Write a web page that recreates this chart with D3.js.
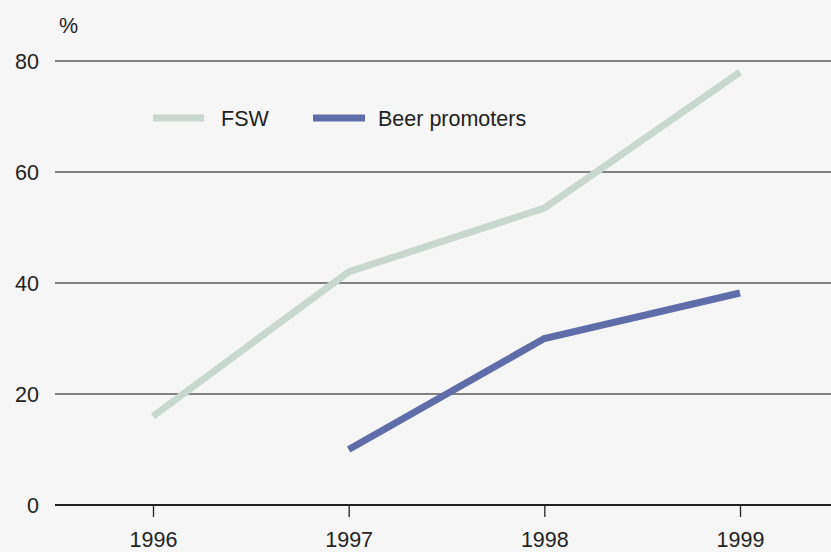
<!DOCTYPE html>
<html>
<head>
<meta charset="utf-8">
<script src="https://cdn.jsdelivr.net/npm/d3@7"></script>
<style>
  body { margin: 0; background: #f6f6f6; }
  svg { display: block; }
</style>
</head>
<body>
<div></div>
<script>
// data
var years = [1996, 1997, 1998, 1999];
var fsw = [16, 42, 53.5, 78];
var beer = [null, 10, 30, 38.2];
var yTicks = [0, 20, 40, 60, 80];

var fswColor = "#c8d8cf",
    beerColor = "#5f6ea8";

var width = 831, height = 552;
var fs = "21.5px";

var x = d3.scalePoint().domain(years).range([153, 740]);
var y = d3.scaleLinear().domain([0, 80]).range([505, 61]);

var svg = d3.select("body").select("div").append("svg")
    .attr("width", width)
    .attr("height", height)
    .style("font-family", "'Liberation Sans', Arial, sans-serif");

svg.append("rect")
    .attr("width", width)
    .attr("height", height)
    .style("fill", "#f6f6f6");

// gridlines
svg.selectAll(".grid")
    .data(yTicks.filter(function(d) { return d > 0; }))
    .enter().append("line")
    .attr("x1", 55)
    .attr("x2", width)
    .attr("y1", function(d) { return y(d); })
    .attr("y2", function(d) { return y(d); })
    .style("stroke", "#5a5a5a")
    .style("stroke-width", 1.3);

// y labels
svg.selectAll(".ylab")
    .data(yTicks)
    .enter().append("text")
    .attr("x", 39)
    .attr("y", function(d) { return y(d) + 8; })
    .attr("text-anchor", "end")
    .style("font-size", fs)
    .style("fill", "#222")
    .text(function(d) { return d; });

svg.append("text")
    .attr("x", 59)
    .attr("y", 33)
    .style("font-size", fs)
    .style("fill", "#222")
    .text("%");

// x axis
var xAxis = svg.append("g")
    .attr("transform", "translate(0," + y(0) + ")")
    .call(d3.axisBottom(x).tickSize(12).tickPadding(15));
xAxis.select(".domain").remove();
xAxis.append("line")
    .attr("x1", 55).attr("x2", width)
    .style("stroke", "#222").style("stroke-width", 2);
xAxis.selectAll(".tick line").style("stroke", "#222").style("stroke-width", 1.3);
xAxis.selectAll(".tick text")
    .style("font-size", fs)
    .style("font-family", "'Liberation Sans', Arial, sans-serif")
    .style("fill", "#222");

var line = d3.line()
    .defined(function(d) { return d[1] != null; })
    .x(function(d) { return x(d[0]); })
    .y(function(d) { return y(d[1]); });

svg.append("path")
    .datum(years.map(function(d, i) { return [d, fsw[i]]; }))
    .attr("d", line)
    .style("fill", "none")
    .style("stroke", fswColor)
    .style("stroke-width", 7);

svg.append("path")
    .datum(years.map(function(d, i) { return [d, beer[i]]; }))
    .attr("d", line)
    .style("fill", "none")
    .style("stroke", beerColor)
    .style("stroke-width", 7);

// legend
var legend = svg.append("g");
legend.append("line")
    .attr("x1", 153).attr("x2", 204).attr("y1", 118).attr("y2", 118)
    .style("stroke", fswColor).style("stroke-width", 7);
legend.append("text")
    .attr("x", 221).attr("y", 126)
    .style("font-size", fs).style("fill", "#222")
    .text("FSW");
legend.append("line")
    .attr("x1", 313).attr("x2", 365).attr("y1", 118).attr("y2", 118)
    .style("stroke", beerColor).style("stroke-width", 7);
legend.append("text")
    .attr("x", 378).attr("y", 126)
    .style("font-size", fs).style("fill", "#222")
    .text("Beer promoters");
</script>
</body>
</html>
